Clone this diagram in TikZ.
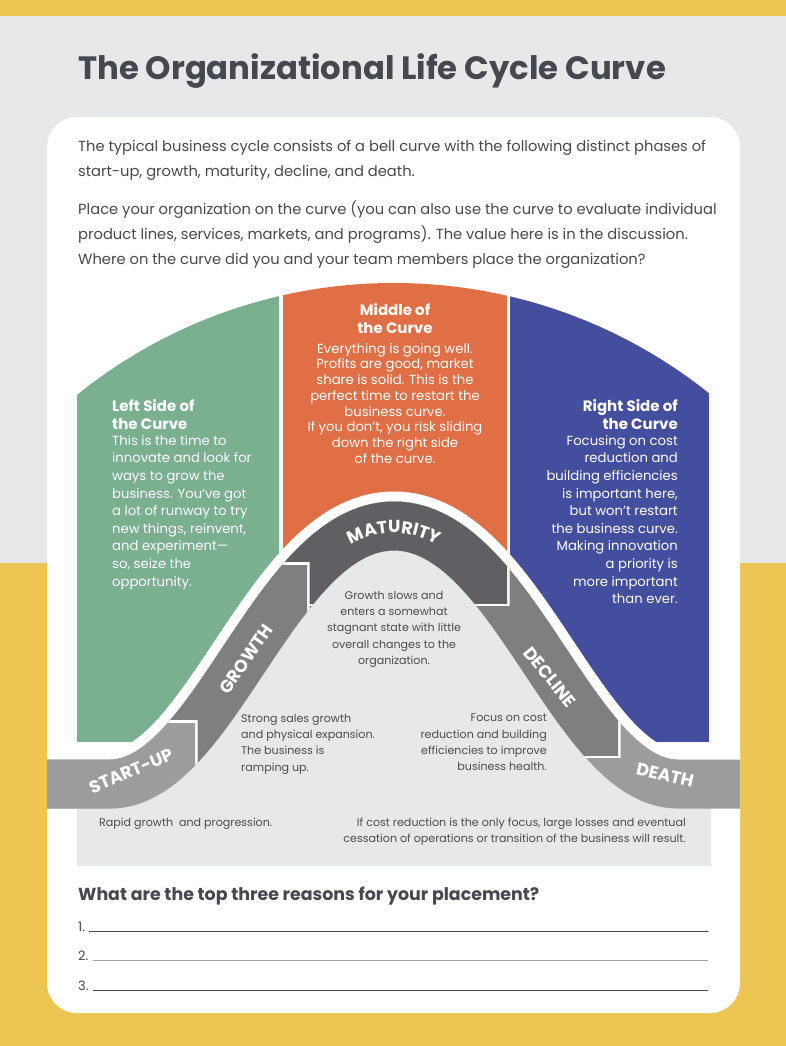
\documentclass[tikz,border=0pt]{standalone}
\usepackage{fontspec}
\setmainfont{Poppins}
\usetikzlibrary{decorations.text}
\definecolor{pageyellow}{HTML}{ECC553}
\definecolor{pagegrey}{HTML}{E7E8EA}
\definecolor{inkgrey}{HTML}{45484F}
\definecolor{notegrey}{HTML}{4B4C50}
\definecolor{leftgreen}{HTML}{7AB08F}
\definecolor{midorange}{HTML}{E06F45}
\definecolor{rightblue}{HTML}{434E9F}
\definecolor{bandlight}{HTML}{9C9B9E}
\definecolor{bandmid}{HTML}{7F7E81}
\definecolor{banddark}{HTML}{615F63}
\tikzset{
  bell/.style={insert path={(47,784) -- (110,784) .. controls (215,784) and (275,526) .. (394,526) .. controls (513,526) and (573,784) .. (678,784) -- (740,784)}},
  band/.style={line width=49pt},
  sidehead/.style={font=\bfseries\fontsize{15}{18.4}\selectfont, text=white, inner sep=0pt},
  sidetext/.style={font=\fontsize{13.2}{17.6}\selectfont, text=white, inner sep=0pt},
  stage/.style={font=\bfseries\fontsize{17.5}{17.5}\selectfont, text=white, inner sep=0pt},
  note/.style={font=\fontsize{11.1}{16.2}\selectfont, text=notegrey, inner sep=0pt},
}
\begin{document}
\begin{tikzpicture}[x=1pt,y=-1pt]
\useasboundingbox (0,0) rectangle (786,1046);
% page and card
\fill[pageyellow] (0,0) rectangle (786,1046);
\fill[pagegrey] (0,16) rectangle (786,563);
\fill[white, rounded corners=30pt] (47,117) rectangle (740,1013);

\node[anchor=base west, inner sep=0pt, font=\bfseries\fontsize{32.3}{32.3}\selectfont, text=inkgrey] (title) at (78,80) {The Organizational Life Cycle Curve};
\node[anchor=north west, inner sep=0pt, align=left, font=\fontsize{14.7}{25}\selectfont, text=inkgrey] (intro) at (78,140) {The typical business cycle consists of a bell curve with the following distinct phases of\\start-up, growth, maturity, decline, and death.};
\node[anchor=north west, inner sep=0pt, align=left, font=\fontsize{14.7}{25}\selectfont, text=inkgrey] (place) at (78,201) {Place your organization on the curve (you can also use the curve to evaluate individual\\product lines, services, markets, and programs). The value here is in the discussion.\\Where on the curve did you and your team members place the organization?};

% the three sides under one dome
\begin{scope}
  \clip (394,788) circle [radius=505pt];
  \fill[leftgreen] (77,270) rectangle (279,742);
  \fill[midorange] (283,270) rectangle (507,742);
  \fill[rightblue] (510,270) rectangle (709,742);
\end{scope}
\draw[white, line width=69pt, bell];
\fill[pagegrey] (77,866) -- (77,784) -- (110,784) .. controls (215,784) and (275,526) .. (394,526) .. controls (513,526) and (573,784) .. (678,784) -- (711,784) -- (711,866) -- cycle;

% band, piece by piece
\draw[bandlight, band, bell];
\foreach \col/\xa/\ya/\xb/\yb in {bandmid/0/0/618/755, banddark/0/0/507/603, bandmid/0/565/307/1046, bandlight/0/723/195/1046}{
  \begin{scope}
    \clip (\xa-2.5,\ya-2.5) rectangle (\xb+2.5,\yb+2.5);
    \draw[white, band, bell];
  \end{scope}
  \begin{scope}
    \clip (\xa,\ya) rectangle (\xb,\yb);
    \draw[\col, band, bell];
  \end{scope}
}

\node[stage, rotate=23] (startup) at (131,771) {START-UP};
\node[stage, rotate=55] (growth) at (246,659) {GROWTH};
\path[decorate, decoration={text along path, text align=center, text color=white,
  text={|\bfseries\fontsize{17.5}{17.5}\selectfont|MATURITY}}]
  (328.9,559.8) .. controls (348.8,543.3) and (370.2,533) .. (394,533) .. controls (417.8,533) and (439.2,543.3) .. (459.1,559.8);
\node[stage, rotate=-51] (decline) at (550,677) {DECLINE};
\node[stage, rotate=-13] (death) at (665,775) {DEATH};

% side texts
\node[sidehead, anchor=north west, align=left] (lefthead) at (112,399) {Left Side of\\the Curve};
\node[sidetext, anchor=north west, align=left] (leftbody) at (112,435) {This is the time to\\innovate and look for\\ways to grow the\\business. You’ve got\\a lot of runway to try\\new things, reinvent,\\and experiment—\\so, seize the\\opportunity.};
\node[sidehead, anchor=north, align=center] (midhead) at (395,303) {Middle of\\the Curve};
\node[sidetext, anchor=north, align=center, font=\fontsize{13.2}{15.7}\selectfont] (midbody) at (395,343) {Everything is going well.\\Profits are good, market\\share is solid. This is the\\perfect time to restart the\\business curve.\\If you don’t, you risk sliding\\down the right side\\of the curve.};
\node[sidehead, anchor=north east, align=right] (righthead) at (678,399) {Right Side of\\the Curve};
\node[sidetext, anchor=north east, align=right] (rightbody) at (678,435) {Focusing on cost\\reduction and\\building efficiencies\\is important here,\\but won't restart\\the business curve.\\Making innovation\\a priority is\\more important\\than ever.};

% notes in the grey panel
\node[note, anchor=north, align=center] (maturitynote) at (394,591) {Growth slows and\\enters a somewhat\\stagnant state with little\\overall changes to the\\organization.};
\node[note, anchor=north west, align=left] (growthnote) at (241,714) {Strong sales growth\\and physical expansion.\\The business is\\ramping up.};
\node[note, anchor=north east, align=right] (declinenote) at (547,714) {Focus on cost\\reduction and building\\efficiencies to improve\\business health.};
\node[note, anchor=north west, align=left] (startupnote) at (99,818) {Rapid growth\ \ and progression.};
\node[note, anchor=north east, align=right] (deathnote) at (686,818) {If cost reduction is the only focus, large losses and eventual\\cessation of operations or transition of the business will result.};

% reasons
\node[anchor=base west, inner sep=0pt, font=\bfseries\fontsize{17.4}{17.4}\selectfont, text=inkgrey] (question) at (78,900) {What are the top three reasons for your placement?};
\foreach \n/\y/\shade in {1/931/inkgrey, 2/960/inkgrey!50, 3/990/inkgrey}{
  \node[anchor=base west, inner sep=0pt, font=\fontsize{13}{13}\selectfont, text=inkgrey] (num\n) at (78,\y) {\n.};
  \coordinate (lineend\n) at (708,\y);
  \draw[\shade, line width=0.9pt] (num\n.base east) ++(4,0) -- (lineend\n);
}
\end{tikzpicture}
\end{document}
